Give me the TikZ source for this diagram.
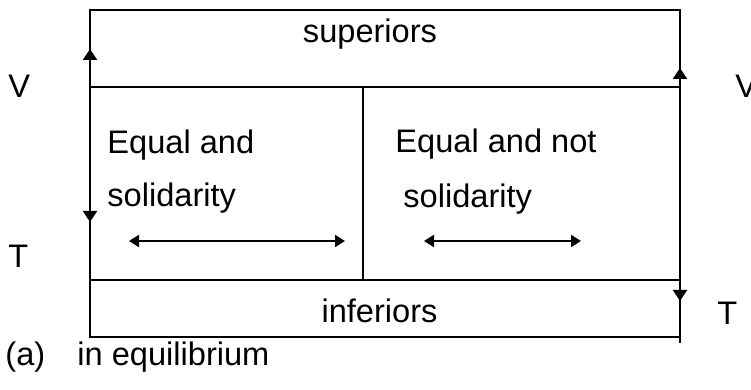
\documentclass[tikz,border=0pt]{standalone}
\usepackage{fontspec}
\setmainfont{Liberation Sans}
\usetikzlibrary{arrows.meta}
\begin{document}
\begin{tikzpicture}[x=0.5pt,y=-0.5pt,
  frame/.style={line width=1.2pt},
  flow/.style={line width=1.2pt,-{Triangle[length=5.5pt,width=7pt]}},
  both/.style={line width=1pt,{Triangle[length=5pt,width=6pt]}-{Triangle[length=5pt,width=6pt]}},
  lbl/.style={inner sep=0pt,font=\fontsize{16.3}{19}\selectfont}]
\useasboundingbox (0,0) rectangle (751,390);
% frame
\coordinate (tl) at (90,10);
\coordinate (br) at (680,337);
\draw[frame] (tl) rectangle (br);
\coordinate (h1l) at (90,87);  \coordinate (h1r) at (680,87);
\coordinate (h2l) at (90,280); \coordinate (h2r) at (680,280);
\coordinate (mt) at (363,87);  \coordinate (mb) at (363,280);
\coordinate (rb) at (680,343);
\draw[frame] (h1l) -- (h1r);
\draw[frame] (h2l) -- (h2r);
\draw[frame] (mt) -- (mb);
\draw[frame] (br) -- (rb);
% edge arrows
\coordinate (la1) at (90,75); \coordinate (la2) at (90,49);
\coordinate (la3) at (90,200); \coordinate (la4) at (90,222);
\coordinate (ra1) at (680,95); \coordinate (ra2) at (680,68);
\coordinate (ra3) at (680,285); \coordinate (ra4) at (680,301);
\draw[flow] (la1) -- (la2);
\draw[flow] (la3) -- (la4);
\draw[flow] (ra1) -- (ra2);
\draw[flow] (ra3) -- (ra4);
% texts
\node[lbl,anchor=base] (sup) at (370,43) {superiors};
\node[lbl,anchor=base] (inf) at (379.5,322) {inferiors};
\node[lbl,anchor=base west] (e1) at (107,154) {Equal and};
\node[lbl,anchor=base west] (s1) at (107,207) {solidarity};
\node[lbl,anchor=base west] (e2) at (395,153) {Equal and not};
\node[lbl,anchor=base west] (s2) at (403,208) {solidarity};
\node[lbl,anchor=base west] (v1) at (8,98) {V};
\node[lbl,anchor=base west] (t1) at (8,268) {T};
\node[lbl,anchor=base west] (v2) at (735,98) {V};
\node[lbl,anchor=base west] (t2) at (717,325) {T};
\node[lbl,anchor=base west] (cap) at (5,365) {(a)};
\node[lbl,anchor=base west] (cap2) at (77,365) {in equilibrium};
% double arrows
\coordinate (d1a) at (129,241); \coordinate (d1b) at (345,241);
\coordinate (d2a) at (424,241); \coordinate (d2b) at (581,241);
\draw[both] (d1a) -- (d1b);
\draw[both] (d2a) -- (d2b);
\end{tikzpicture}
\end{document}
